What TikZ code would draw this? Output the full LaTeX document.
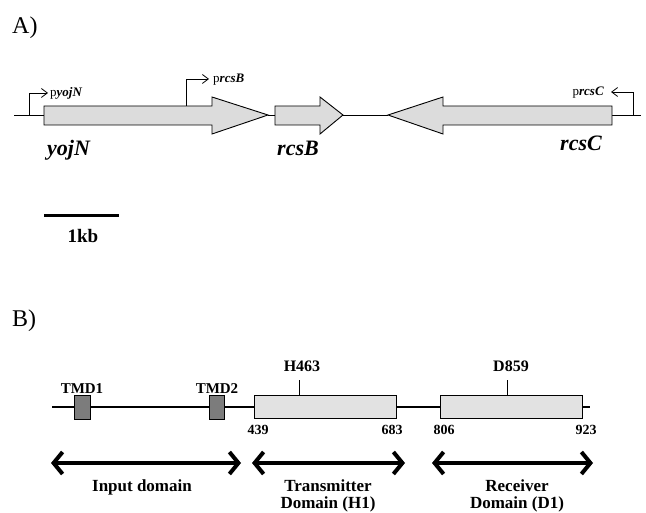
\documentclass[tikz,border=0pt]{standalone}
\usepackage{fontspec}
\setmainfont{Liberation Serif}
\usetikzlibrary{arrows.meta}
\definecolor{genefill}{HTML}{DCDCDC}
\definecolor{boxfill}{HTML}{E2E2E2}
\definecolor{tmdfill}{HTML}{7C7C7C}
\tikzset{
  gene/.style={draw=black, line width=0.9pt, fill=genefill, line join=miter},
  backbone/.style={line width=0.9pt},
  promoter/.style={line width=0.8pt, -{Straight Barb[length=6pt,width=9pt]}},
  lbl/.style={inner sep=0pt, anchor=base},
  domainbox/.style={draw=black, line width=0.9pt, fill=boxfill, rectangle, inner sep=0pt, minimum height=23pt},
  tmd/.style={draw=black, line width=0.9pt, fill=tmdfill, rectangle, inner sep=0pt, minimum height=24pt},
  span/.style={line width=4pt, {Straight Barb[length=9pt,width=22pt]}-{Straight Barb[length=9pt,width=22pt]}},
}
\begin{document}
\begin{tikzpicture}[x=1pt,y=-1pt]
\useasboundingbox (0,0) rectangle (646,513);
% ---------- Part A ----------
\node[lbl, anchor=base west] (labA) at (12,34) {\fontsize{24}{28}\selectfont A)};
% backbone
\coordinate (bbL) at (14,115);
\coordinate (bbR) at (641,115);
\draw[backbone] (bbL) -- (44,115);
\draw[backbone] (343,115) -- (388,115);
\draw[backbone] (612,115) -- (bbR);
% genes
\draw[gene] (44,106) -- (212,106) -- (212,97) -- (268,115) -- (212,134) -- (212,125) -- (44,125) -- cycle;
\draw[backbone] (268,115) -- (275,115);
\draw[gene] (275,106) -- (320,106) -- (320,97) -- (343,115) -- (320,134) -- (320,125) -- (275,125) -- cycle;
\draw[gene] (612,106) -- (443,106) -- (443,97) -- (388,115) -- (443,134) -- (443,125) -- (612,125) -- cycle;
% promoters
\coordinate (pyS) at (29,115);
\coordinate (pyE) at (48,93);
\draw[promoter] (pyS) |- (pyE);
\coordinate (pbS) at (186,106);
\coordinate (pbE) at (209,79);
\draw[promoter] (pbS) |- (pbE);
\coordinate (pcS) at (633,115);
\coordinate (pcE) at (611,92);
\draw[promoter] (pcS) |- (pcE);
\node[lbl, anchor=base west] (tpy) at (50,97) {\fontsize{13}{15}\selectfont p\textbf{\textit{yojN}}};
\node[lbl, anchor=base west] (tpb) at (213,83) {\fontsize{13}{15}\selectfont p\textbf{\textit{rcsB}}};
\node[lbl, anchor=base east] (tpc) at (604,96) {\fontsize{13}{15}\selectfont p\textbf{\textit{rcsC}}};
% gene names
\node[lbl, anchor=base west] (gy) at (47,156) {\fontsize{22}{26}\selectfont\bfseries\itshape yojN};
\node[lbl, anchor=base west] (gb) at (277,156) {\fontsize{22}{26}\selectfont\bfseries\itshape rcsB};
\node[lbl, anchor=base west] (gc) at (560,151) {\fontsize{22}{26}\selectfont\bfseries\itshape rcsC};
% scale bar
\coordinate (sbL) at (44,216);
\coordinate (sbR) at (119,216);
\draw[line width=3pt] (sbL) -- (sbR);
\node[lbl] (kb) at (83,243) {\fontsize{19}{22}\selectfont\bfseries 1kb};
% ---------- Part B ----------
\node[lbl, anchor=base west] (labB) at (12,327) {\fontsize{24}{28}\selectfont B)};
\coordinate (lnL) at (52,407);
\coordinate (lnR) at (590,407);
\draw[line width=1.2pt] (lnL) -- (lnR);
\node[tmd, minimum width=16pt] (tmd1) at (82,407) {};
\node[tmd, minimum width=15pt] (tmd2) at (216.5,407) {};
\node[domainbox, minimum width=142pt] (h1) at (325,406.5) {};
\node[domainbox, minimum width=142pt] (d1) at (511,406.5) {};
\node[lbl] (ttmd1) at (82,394) {\fontsize{15}{18}\selectfont\bfseries TMD1};
\node[lbl] (ttmd2) at (217,394) {\fontsize{15}{18}\selectfont\bfseries TMD2};
\coordinate (hT) at (299,380);
\coordinate (dT) at (507,380);
\draw[line width=1pt] (h1.north -| hT) -- (hT);
\draw[line width=1pt] (d1.north -| dT) -- (dT);
\node[lbl] (th) at (302,372) {\fontsize{16}{19}\selectfont\bfseries H463};
\node[lbl] (td) at (511,372) {\fontsize{16}{19}\selectfont\bfseries D859};
\node[lbl] (n439) at (258,435) {\fontsize{14}{17}\selectfont\bfseries 439};
\node[lbl] (n683) at (392,435) {\fontsize{14}{17}\selectfont\bfseries 683};
\node[lbl] (n806) at (444,435) {\fontsize{14}{17}\selectfont\bfseries 806};
\node[lbl] (n923) at (586,435) {\fontsize{14}{17}\selectfont\bfseries 923};
% domain spans
\coordinate (a1L) at (51,463); \coordinate (a1R) at (241,463);
\coordinate (a2L) at (252,463); \coordinate (a2R) at (405,463);
\coordinate (a3L) at (432,463); \coordinate (a3R) at (593,463);
\draw[span] (a1L) -- (a1R);
\draw[span] (a2L) -- (a2R);
\draw[span] (a3L) -- (a3R);
\node[lbl] (tin) at (142,491) {\fontsize{17}{20}\selectfont\bfseries Input domain};
\node[lbl] (ttr) at (328,491) {\fontsize{17}{20}\selectfont\bfseries Transmitter};
\node[lbl] (ttr2) at (328,508.5) {\fontsize{17}{20}\selectfont\bfseries Domain (H1)};
\node[lbl] (tre) at (517,491) {\fontsize{17}{20}\selectfont\bfseries Receiver};
\node[lbl] (tre2) at (517,508.5) {\fontsize{17}{20}\selectfont\bfseries Domain (D1)};
\end{tikzpicture}
\end{document}
